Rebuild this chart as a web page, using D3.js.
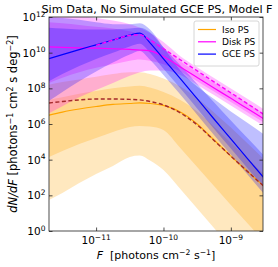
<!DOCTYPE html>
<html>
<head>
<meta charset="utf-8">
<script src="https://cdn.jsdelivr.net/npm/d3@7"></script>
<style>
body { margin: 0; background: #fff; }
text { font-family: "DejaVu Sans", sans-serif; fill: #000; }
</style>
</head>
<body>
<svg id="chart" width="278" height="267"></svg>
<script>
// log10 of flux grid
var logF = [-11.7, -11.5, -11.25, -11, -10.75, -10.5, -10.35, -10.2, -10, -9.75, -9.5, -9.25, -9, -8.75, -8.5];

// log10 dN/dF, Iso PS
var isoMed  = [6.5, 6.67, 6.84, 6.98, 7.1, 7.15, 7.18, 7.15, 7.04, 6.67, 6.0, 5.1, 4.2, 3.33, 2.47];
var isoTrue = [7.18, 7.26, 7.35, 7.4, 7.4, 7.38, 7.35, 7.26, 7.07, 6.62, 5.95, 5.08, 4.2, 3.33, 2.47];
var isoLo95 = [1.74, 2.13, 2.69, 3.2, 3.65, 4.15, 4.23, 3.95, 3.42, 2.36, 1.26, 0.17, -0.95, -2.1, -3.2];
var isoLo68 = [4.15, 4.49, 4.88, 5.22, 5.55, 5.83, 5.89, 5.86, 5.66, 4.65, 3.59, 2.52, 1.46, 0.42, -0.62];
var isoHi68 = [7.35, 7.5, 7.7, 7.85, 8.0, 8.1, 8.15, 8.05, 7.8, 7.35, 6.7, 5.85, 4.95, 4.05, 3.15];
var isoHi95 = [8.2, 8.35, 8.5, 8.65, 8.8, 8.9, 8.9, 8.8, 8.55, 8.1, 7.45, 6.65, 5.8, 4.9, 4.0];

// Disk PS
var diskMed  = [10.32, 10.3, 10.27, 10.25, 10.22, 10.18, 10.15, 10.1, 9.79, 9.2, 8.61, 8.02, 7.44, 6.85, 6.26];
var diskTrue = [null, null, null, 10.41, 10.7, 10.97, 11.0, 10.71, 10.22, 9.6, 8.98, 8.36, 7.75, 7.13, 6.51];
var diskHi95 = [12.2, 12.15, 12.05, 11.95, 11.8, 11.6, 11.4, 11.1, 10.6, 9.8, 9.18, 8.58, 7.99, 7.4, 6.8];
var diskHi68 = [11.7, 11.65, 11.55, 11.45, 11.35, 11.2, 11.05, 10.8, 10.25, 9.52, 8.91, 8.32, 7.74, 7.15, 6.56];
var diskLo68 = [8.3, 8.6, 8.9, 9.15, 9.35, 9.55, 9.62, 9.55, 9.35, 8.95, 8.4, 7.82, 7.24, 6.65, 6.06];
var diskLo95 = [6.6, 7.0, 7.5, 7.9, 8.3, 8.7, 8.9, 9.0, 9.0, 8.75, 8.2, 7.62, 7.04, 6.45, 5.86];

// GCE PS
var gceMed  = [9.67, 9.89, 10.17, 10.44, 10.71, 10.98, 11.1, 10.55, 9.65, 8.55, 7.42, 6.28, 5.17, 4.05, 2.94];
var gceHi95 = [12.0, 11.95, 11.85, 11.7, 11.6, 11.6, 11.65, 11.3, 10.3, 9.0, 8.1, 7.4, 6.7, 6.05, 5.4];
var gceHi68 = [11.4, 11.35, 11.3, 11.3, 11.3, 11.35, 11.4, 11.15, 10.3, 9.3, 8.25, 7.22, 6.2, 5.2, 4.2];
var gceLo68 = [8.4, 8.8, 9.25, 9.65, 10.0, 10.35, 10.5, 10.0, 9.1, 8.0, 6.87, 5.73, 4.62, 3.5, 2.39];
var gceLo95 = [7.3, 7.8, 8.4, 8.95, 9.45, 9.9, 10.1, 9.6, 8.75, 7.65, 6.52, 5.38, 4.27, 3.15, 2.04];

var xTickExp = [-11, -10, -9];
var yTickExp = [0, 2, 4, 6, 8, 10, 12];
var legendNames = ["Iso PS", "Disk PS", "GCE PS"];
var legendColors = ["orange", "magenta", "blue"];

// layout
var margin = {left: 49, top: 17, right: 15, bottom: 36};
var width = 278 - margin.left - margin.right;
var height = 267 - margin.top - margin.bottom;

var svg = d3.select("#chart");
var g = svg.append("g")
    .attr("transform", "translate(" + margin.left + "," + margin.top + ")");

var x = d3.scaleLog().domain([2e-12, 3e-9]).range([0, width]);
var y = d3.scaleLog().domain([1, 1e12]).range([height, 0]);

g.append("clipPath").attr("id", "clip")
  .append("rect").attr("width", width).attr("height", height);

var plot = g.append("g").attr("clip-path", "url(#clip)");

function band(lo, hi) {
  return d3.area()
    .x(function(d, i) { return x(Math.pow(10, logF[i])); })
    .y0(function(d, i) { return y(Math.pow(10, lo[i])); })
    .y1(function(d, i) { return y(Math.pow(10, hi[i])); })
    .curve(d3.curveMonotoneX)(logF);
}
function line(vals) {
  return d3.line()
    .defined(function(d, i) { return vals[i] !== null; })
    .x(function(d, i) { return x(Math.pow(10, logF[i])); })
    .y(function(d, i) { return y(Math.pow(10, vals[i])); })
    .curve(d3.curveMonotoneX)(logF);
}

var comps = [
  {c: "orange", b: [[isoLo95, isoHi95], [isoLo68, isoHi68]]},
  {c: "magenta", b: [[diskLo95, diskHi95], [diskLo68, diskHi68]]},
  {c: "blue", b: [[gceLo95, gceHi95], [gceLo68, gceHi68]]}
];
comps.forEach(function(cp) {
  cp.b.forEach(function(b) {
    plot.append("path").attr("d", band(b[0], b[1]))
      .attr("fill", cp.c).attr("fill-opacity", 0.25);
  });
});

plot.append("path").attr("d", line(isoMed)).attr("fill", "none").attr("stroke", "orange").attr("stroke-width", 1.2);
plot.append("path").attr("d", line(diskMed)).attr("fill", "none").attr("stroke", "magenta").attr("stroke-width", 1.2);
plot.append("path").attr("d", line(gceMed)).attr("fill", "none").attr("stroke", "blue").attr("stroke-width", 1.2);
plot.append("path").attr("d", line(isoTrue)).attr("fill", "none").attr("stroke", "brown")
  .attr("stroke-width", 1.4).attr("stroke-dasharray", "4,2.5");
plot.append("path").attr("d", line(diskTrue)).attr("fill", "none").attr("stroke", "magenta")
  .attr("stroke-width", 1.4).attr("stroke-dasharray", "4,2.5");

// axes (ticks point inwards)
var minor = [];
for (var e = -12; e <= -9; e++) {
  for (var m = 1; m < 10; m++) {
    var v = m * Math.pow(10, e);
    if (v >= 2e-12 && v <= 3e-9) minor.push(v);
  }
}
function xAxis(gen, ty) {
  var ax = g.append("g").attr("transform", "translate(0," + ty + ")");
  ax.call(gen(x).tickValues(minor).tickSize(-2).tickFormat(""));
  ax.call(gen(x).tickValues(xTickExp.map(function(e) { return Math.pow(10, e); })).tickSize(-3.5).tickFormat(""));
  ax.selectAll(".domain").remove();
  return ax;
}
xAxis(d3.axisBottom, height);
xAxis(d3.axisTop, 0);

var yl = g.append("g").call(d3.axisLeft(y).tickValues(yTickExp.map(function(e) { return Math.pow(10, e); })).tickSize(-3.5).tickFormat(""));
var yr = g.append("g").attr("transform", "translate(" + width + ",0)")
  .call(d3.axisRight(y).tickValues(yTickExp.map(function(e) { return Math.pow(10, e); })).tickSize(-3.5).tickFormat(""));
yl.selectAll(".domain").remove();
yr.selectAll(".domain").remove();
g.selectAll(".tick line").attr("stroke", "#222").attr("stroke-width", 0.8);

g.append("rect").attr("width", width).attr("height", height)
  .attr("fill", "none").attr("stroke", "#222").attr("stroke-width", 0.8);

// tick labels
xTickExp.forEach(function(e) {
  var t = g.append("text").attr("x", x(Math.pow(10, e))).attr("y", height + 13)
    .attr("text-anchor", "middle").style("font-size", "10.5px");
  t.append("tspan").text("10");
  t.append("tspan").attr("dy", -4.5).style("font-size", "7.5px").text("\u2212" + (-e));
});
yTickExp.forEach(function(e) {
  var t = g.append("text").attr("x", -3.5).attr("y", y(Math.pow(10, e)) + 4)
    .attr("text-anchor", "end").style("font-size", "10.5px");
  t.append("tspan").text("10");
  t.append("tspan").attr("dy", -4.5).style("font-size", "7.5px").text(e);
});

// axis labels
var xl = svg.append("text").attr("x", margin.left + width / 2).attr("y", 259)
  .attr("text-anchor", "middle").style("font-size", "11px");
xl.append("tspan").style("font-style", "italic").text("F");
xl.append("tspan").text("\u00a0\u00a0[photons cm");
xl.append("tspan").attr("dy", -4.5).style("font-size", "7.7px").text("\u22122");
xl.append("tspan").attr("dy", 4.5).text(" s");
xl.append("tspan").attr("dy", -4.5).style("font-size", "7.7px").text("\u22121");
xl.append("tspan").attr("dy", 4.5).text("]");

var ylab = svg.append("text")
  .attr("transform", "translate(17," + (margin.top + height / 2) + ") rotate(-90)")
  .attr("text-anchor", "middle").style("font-size", "11.5px");
ylab.append("tspan").style("font-style", "italic").text("dN/dF");
ylab.append("tspan").text(" [photons");
ylab.append("tspan").attr("dy", -4.5).style("font-size", "8px").text("\u22121");
ylab.append("tspan").attr("dy", 4.5).text(" cm");
ylab.append("tspan").attr("dy", -4.5).style("font-size", "8px").text("2");
ylab.append("tspan").attr("dy", 4.5).text(" s deg");
ylab.append("tspan").attr("dy", -4.5).style("font-size", "8px").text("\u22122");
ylab.append("tspan").attr("dy", 4.5).text("]");

// title
svg.append("text").attr("x", margin.left + width / 2 + 1).attr("y", 13)
  .attr("text-anchor", "middle").style("font-size", "11.3px")
  .text("Sim Data, No Simulated GCE PS, Model F");

// legend
var lg = g.append("g").attr("transform", "translate(145,4)");
lg.append("rect").attr("width", 65).attr("height", 45).attr("rx", 2)
  .attr("fill", "#fff").attr("fill-opacity", 0.8).attr("stroke", "#ccc").attr("stroke-width", 0.8);
legendNames.forEach(function(n, i) {
  var yy = 8.5 + i * 12.3;
  lg.append("line").attr("x1", 4).attr("x2", 22).attr("y1", yy).attr("y2", yy)
    .attr("stroke", legendColors[i]).attr("stroke-width", 1.2);
  lg.append("text").attr("x", 28).attr("y", yy + 3.3).style("font-size", "9px").text(n);
});
</script>
</body>
</html>
